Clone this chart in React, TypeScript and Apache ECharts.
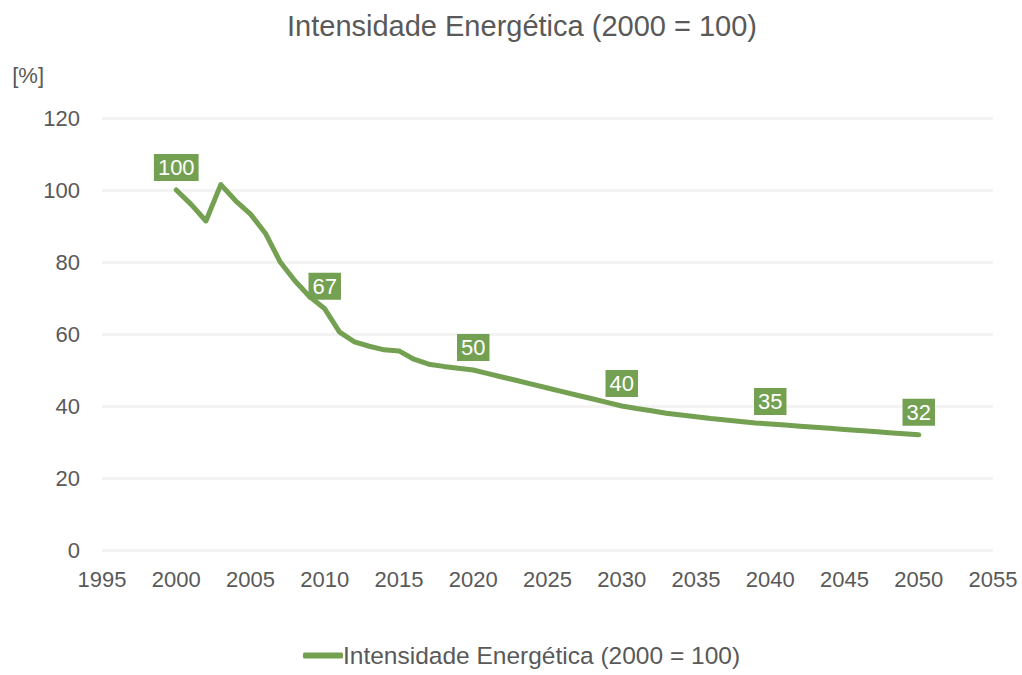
import React, { useEffect, useRef } from "react";
import * as echarts from "echarts";

const years: number[] = [
  2000, 2001, 2002, 2003, 2004, 2005, 2006, 2007, 2008, 2009,
  2010, 2011, 2012, 2013, 2014, 2015, 2016, 2017, 2018, 2019,
  2020, 2021, 2022, 2023, 2024, 2025, 2026, 2027, 2028, 2029,
  2030, 2031, 2032, 2033, 2034, 2035, 2036, 2037, 2038, 2039,
  2040, 2041, 2042, 2043, 2044, 2045, 2046, 2047, 2048, 2049, 2050,
];
const values: number[] = [
  100, 96, 91.4, 101.5, 97, 93.3, 88, 80, 74.7, 70.3,
  67, 60.5, 57.8, 56.6, 55.6, 55.3, 53, 51.6, 51, 50.5,
  50, 49, 48, 47, 46, 45, 44, 43, 42, 41,
  40, 39.3, 38.7, 38, 37.5, 37, 36.5, 36.1, 35.7, 35.3,
  35, 34.7, 34.4, 34.1, 33.8, 33.5, 33.2, 32.9, 32.6, 32.3, 32,
];
const labeledYears: number[] = [2000, 2010, 2020, 2030, 2040, 2050];
const seriesName = "Intensidade Energética (2000 = 100)";
const titleText = "Intensidade Energética (2000 = 100)";
const yAxisName = "[%]";

export default function App() {
  const ref = useRef<HTMLDivElement>(null);
  useEffect(() => {
    if (!ref.current) return;
    const chart = echarts.init(ref.current, undefined, { renderer: "svg" });
    const green = "#74a052";
    const textColor = "#595959";
    const font = "Liberation Sans, Arial, sans-serif";
    const data = years.map((y, i) => {
      const show = labeledYears.includes(y);
      return {
        value: [y, values[i]],
        label: { show },
      };
    });
    chart.setOption({
      animation: false,
      title: {
        text: titleText,
        left: 517,
        textAlign: "center",
        top: 6,
        textStyle: { fontSize: 29, fontWeight: "normal", color: textColor, fontFamily: font },
      },
      grid: { left: 102, right: 29, top: 118, bottom: 125, containLabel: false },
      legend: {
        bottom: 2,
        left: 298,
        itemWidth: 40,
        itemHeight: 6,
        textStyle: { fontSize: 24.5, color: textColor, fontFamily: font, padding: [0, 0, 0, -5] },
        data: [{ name: seriesName, icon: "roundRect" }],
      },
      xAxis: {
        type: "value",
        min: 1995,
        max: 2055,
        interval: 5,
        axisLine: { show: false },
        axisTick: { show: false },
        splitLine: { show: false },
        axisLabel: {
          color: textColor,
          fontSize: 22,
          fontFamily: font,
          margin: 18,
          formatter: (v: number) => String(v),
        },
      },
      yAxis: {
        type: "value",
        min: 0,
        max: 120,
        interval: 20,
        name: yAxisName,
        nameLocation: "end",
        nameGap: 43,
        nameTextStyle: {
          color: textColor,
          fontSize: 22,
          fontFamily: font,
          align: "right",
          verticalAlign: "middle",
          padding: [0, 58, 0, 0],
        },
        axisLine: { show: false },
        axisTick: { show: false },
        axisLabel: { color: textColor, fontSize: 22, fontFamily: font, margin: 22 },
        splitLine: { lineStyle: { color: "#f3f3f3", width: 3 } },
      },
      series: [
        {
          name: seriesName,
          type: "line",
          data,
          showSymbol: true,
          symbol: "circle",
          symbolSize: 0.01,
          lineStyle: { color: green, width: 5, cap: "round", join: "round" },
          itemStyle: { color: green },
          label: {
            position: "top",
            distance: 9,
            color: "#ffffff",
            fontSize: 22,
            fontFamily: font,
            backgroundColor: green,
            padding: [3, 4, 2, 4],
            formatter: (p: any) => String(Math.round(p.value[1])),
          },
        },
      ],
    });
    return () => chart.dispose();
  }, []);
  return (
    <div
      ref={ref}
      style={{ position: "fixed", left: 0, top: 0, width: 1022, height: 675, background: "#fff" }}
    />
  );
}
